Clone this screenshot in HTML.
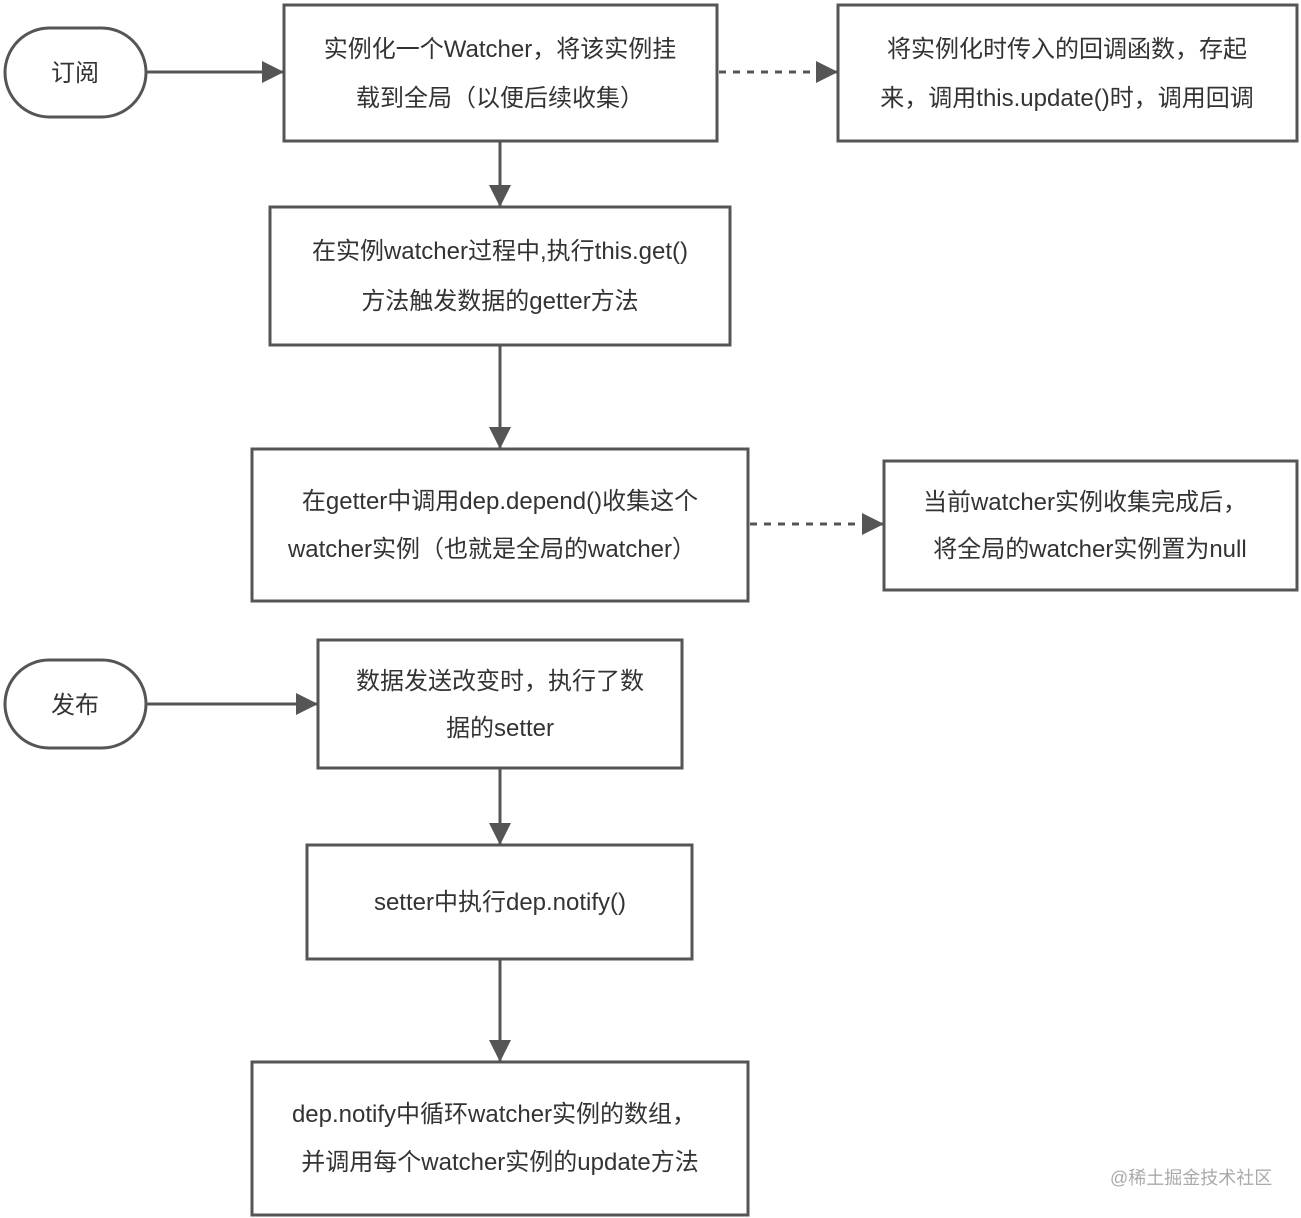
<!DOCTYPE html>
<html><head><meta charset="utf-8"><style>
html,body{margin:0;padding:0;background:#fff;}
svg{display:block;}
text{font-family:"Liberation Sans","Noto Sans CJK SC",sans-serif;font-size:24px;fill:#333;}
</style></head><body>
<svg width="1301" height="1218" viewBox="0 0 1301 1218" xmlns="http://www.w3.org/2000/svg">
<defs><marker id="a" markerWidth="22" markerHeight="22" refX="22" refY="11" orient="auto" markerUnits="userSpaceOnUse"><path d="M0,0 L22,11 L0,22 Z" fill="#555"/></marker></defs>
<g fill="none" stroke="#555" stroke-width="3">
<rect x="5" y="28" width="141" height="89" rx="44.5"/>
<rect x="5" y="660" width="141" height="88" rx="44"/>
<rect x="284" y="5" width="433" height="136"/>
<rect x="838" y="5" width="459" height="136"/>
<rect x="270" y="207" width="460" height="138"/>
<rect x="252" y="449" width="496" height="152"/>
<rect x="884" y="461" width="413" height="129"/>
<rect x="318" y="640" width="364" height="128"/>
<rect x="307" y="845" width="385" height="114"/>
<rect x="252" y="1062" width="496" height="153"/>
<line x1="146" y1="72" x2="284" y2="72" marker-end="url(#a)"/>
<line x1="146" y1="704" x2="318" y2="704" marker-end="url(#a)"/>
<line x1="719" y1="72" x2="838" y2="72" stroke-dasharray="7 7" marker-end="url(#a)"/>
<line x1="750" y1="524" x2="884" y2="524" stroke-dasharray="7 7" marker-end="url(#a)"/>
<line x1="500" y1="141" x2="500" y2="207" marker-end="url(#a)"/>
<line x1="500" y1="345" x2="500" y2="449" marker-end="url(#a)"/>
<line x1="500" y1="768" x2="500" y2="845" marker-end="url(#a)"/>
<line x1="500" y1="959" x2="500" y2="1062" marker-end="url(#a)"/>
</g>
<g text-anchor="middle">
<text x="75" y="81">订阅</text>
<text x="75" y="713">发布</text>
<text x="500" y="57">实例化一个Watcher，将该实例挂</text>
<text x="500" y="106">载到全局（以便后续收集）</text>
<text x="1067" y="57">将实例化时传入的回调函数，存起</text>
<text x="1067" y="106">来，调用this.update()时，调用回调</text>
<text x="500" y="259">在实例watcher过程中,执行this.get()</text>
<text x="500" y="309">方法触发数据的getter方法</text>
<text x="500" y="509">在getter中调用dep.depend()收集这个</text>
<text x="492" y="557">watcher实例（也就是全局的watcher）</text>
<text x="1085" y="510">当前watcher实例收集完成后，</text>
<text x="1090" y="557">将全局的watcher实例置为null</text>
<text x="500" y="689">数据发送改变时，执行了数</text>
<text x="500" y="736">据的setter</text>
<text x="500" y="910">setter中执行dep.notify()</text>
<text x="494" y="1122">dep.notify中循环watcher实例的数组，</text>
<text x="500" y="1170">并调用每个watcher实例的update方法</text>
</g>
<text x="1110" y="1184" style="font-size:18px;fill:#aaa">@稀土掘金技术社区</text>
</svg>
</body></html>
